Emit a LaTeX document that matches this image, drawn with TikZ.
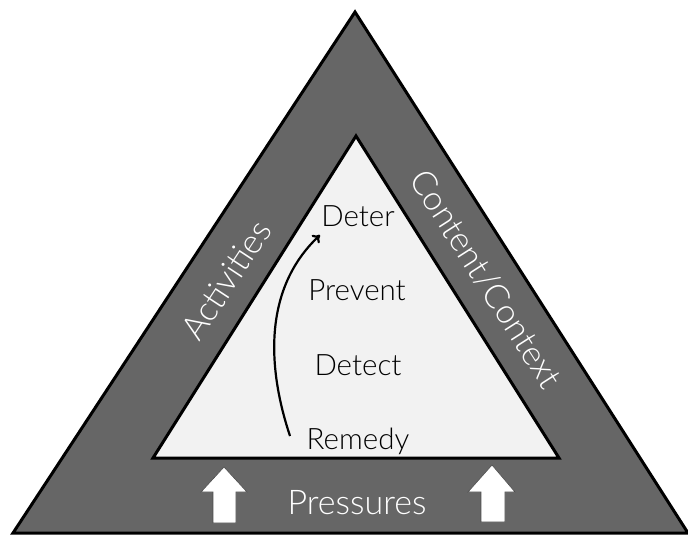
\documentclass[tikz,border=0pt]{standalone}
\usepackage{fontspec}
\IfFontExistsTF{Lato Light}{\setmainfont{Lato Light}}{\setmainfont{Lato}}
\usetikzlibrary{arrows.meta}

\begin{document}
\begin{tikzpicture}[x=1pt, y=-1pt,
% Shape styles
 band/.style={draw=black, line width=3pt, line join=miter, fill=black!60},
 core/.style={draw=black, line width=3pt, line join=miter, fill=black!5},
 push/.style={draw=black!70, line width=0.6pt, fill=white},
% Text styles
 side/.style={text=white, font=\fontsize{34}{38}\selectfont},
 stage/.style={text=black, font=\fontsize{29.5}{33}\selectfont},
% Arrow styles
 flow/.style={draw, line width=2.2pt, -{To[length=7pt, width=11pt]}}
]
\useasboundingbox (0,0) rectangle (688,535);

% triangles
\coordinate (outerTop) at (355,12);
\coordinate (outerLeft) at (13,533);
\coordinate (outerRight) at (688,533);
\coordinate (innerTop) at (356,136);
\coordinate (innerLeft) at (153,458);
\coordinate (innerRight) at (559,458);

\draw[band] (outerTop) -- (outerLeft) -- (outerRight) -- cycle;
\draw[core] (innerTop) -- (innerLeft) -- (innerRight) -- cycle;

% side labels
\node[side, rotate=56.7] (activities) at (226,280) {Activities};
\node[side, rotate=-57.4] (context) at (486,279) {Content/Context};
\node[side] (pressures) at (357,503) {Pressures};

% pressure arrows
\draw[push] (224,467) -- (247,492) -- (236,492) -- (236,523) -- (213,523)
 -- (213,492) -- (201,492) -- cycle;
\draw[push] (492,465) -- (515,492) -- (505,492) -- (505,522) -- (481,522)
 -- (481,492) -- (468,492) -- cycle;

% stages
\node[stage] (deter) at (358,216) {Deter};
\node[stage] (prevent) at (357,290) {Prevent};
\node[stage] (detect) at (358,365) {Detect};
\node[stage] (remedy) at (358,441) {Remedy};

\coordinate (flowStart) at (290,436);
\coordinate (flowEnd) at (320,235);
\draw[flow] (flowStart) .. controls (268,370) and (262,290) .. (flowEnd);

\end{tikzpicture}
\end{document}
